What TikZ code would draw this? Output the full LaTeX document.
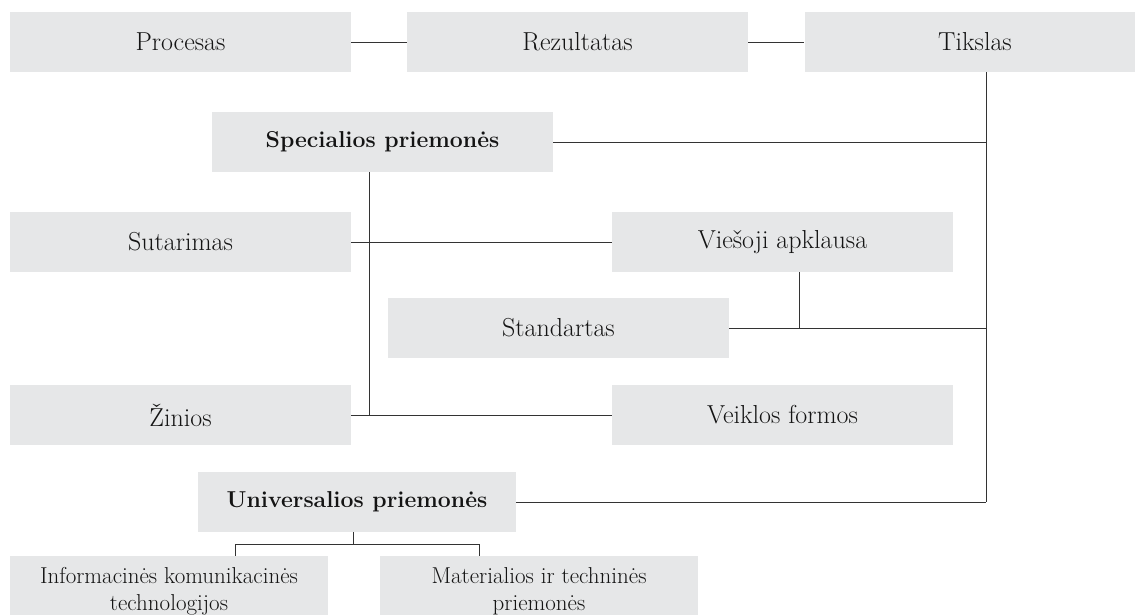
\documentclass[tikz,border=0pt]{standalone}
\usepackage{fontspec}
\definecolor{boxgray}{HTML}{E6E7E8}
\definecolor{linegray}{HTML}{333333}
\begin{document}
\begin{tikzpicture}[x=1pt,y=-1pt,
  box/.style={fill=boxgray, inner sep=0pt, minimum height=60pt, align=center,
    font=\fontsize{26}{30}\selectfont, text=black!92},
  wbox/.style={box, minimum width=341pt},
  nbox/.style={box, minimum width=318pt},
  boldtext/.style={font=\fontsize{23}{28}\selectfont\bfseries},
  twoline/.style={minimum height=70pt, font=\fontsize{23}{27}\selectfont},
  conn/.style={draw=linegray, line width=1pt}]
\useasboundingbox (0,0) rectangle (1135,614);
\node[wbox] (proc) at (180.5,42) {Procesas};
\node[wbox] (rez) at (577.5,42) {Rezultatas};
\node[wbox] (tik) at (975,42) {Tikslas};
\node[wbox, boldtext] (spec) at (382.5,142) {Specialios priemonės};
\node[wbox] (sut) at (180.5,242) {Sutarimas};
\node[wbox] (ves) at (782.5,242) {Viešoji apklausa};
\node[wbox] (std) at (558.5,328) {Standartas};
\node[wbox] (zin) at (180.5,415) {Žinios};
\node[wbox] (vei) at (782.5,415) {Veiklos formos};
\node[nbox, boldtext] (uni) at (357,502) {Universalios priemonės};
\node[nbox, twoline] (info) at (169,591) {Informacinės komunikacinės\\technologijos};
\node[nbox, twoline] (mat) at (539,591) {Materialios ir techninės\\priemonės};
\coordinate (busx) at (986,0);
\coordinate (specx) at (369,0);
\coordinate (vesx) at (799,0);
\coordinate (unix) at (353,0);
\coordinate (infox) at (235,0);
\coordinate (matx) at (479,0);
\coordinate (uniy) at (0,544);
% top row
\draw[conn] (proc.east) -- (rez.west);
\draw[conn] (rez.east) -- (tik.west);
% right bus
\draw[conn] (tik.south -| busx) -- (uni.east -| busx);
\draw[conn] (spec.east) -- (spec.east -| busx);
\draw[conn] (std.east) -- (std.east -| busx);
\draw[conn] (uni.east) -- (uni.east -| busx);
\draw[conn] (ves.south -| vesx) -- (std.east -| vesx);
% special means
\draw[conn] (spec.south -| specx) -- (zin.east -| specx);
\draw[conn] (sut.east) -- (ves.west);
\draw[conn] (zin.east) -- (vei.west);
% universal means
\draw[conn] (uni.south -| unix) -- (unix |- uniy);
\draw[conn] (info.north -| infox) -- (infox |- uniy) -- (matx |- uniy) -- (mat.north -| matx);
\end{tikzpicture}
\end{document}
